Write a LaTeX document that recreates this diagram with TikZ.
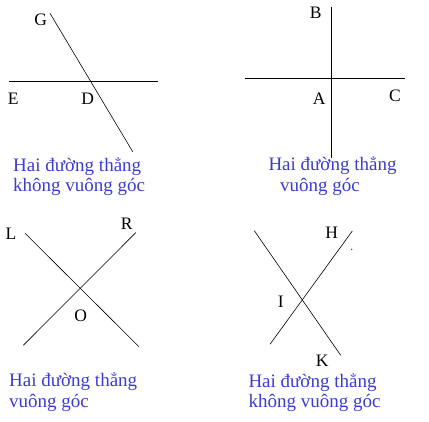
\documentclass[tikz,border=0pt]{standalone}
\usepackage{fontspec}
\setmainfont{Liberation Serif}
\definecolor{captionblue}{RGB}{60,60,210}
\begin{document}
\begin{tikzpicture}[x=1pt,y=-1pt,
  lbl/.style={inner sep=0pt,font=\fontsize{17.5}{19}\selectfont},
  captext/.style={inner sep=0pt,anchor=base west,text=captionblue,font=\fontsize{19}{21}\selectfont},
  thin line/.style={line width=0.6pt},
  thick line/.style={line width=0.9pt}]
\useasboundingbox (0,0) rectangle (429,422);
% Panel 1
\coordinate (G1) at (50,13.3);
\coordinate (G2) at (132.7,151.7);
\coordinate (E1) at (9,81);
\coordinate (E2) at (157.7,81);
\draw[thin line] (G1) -- (G2);
\draw[thick line] (E1) -- (E2);
\node[lbl] (G) at (40.7,20) {G};
\node[lbl] (E) at (13.3,98.3) {E};
\node[lbl] (D) at (87.7,98.3) {D};
\node[captext] (t1a) at (13,172) {Hai đường thẳng};
\node[captext] (t1b) at (13,192) {không vuông góc};
% Panel 2
\coordinate (B1) at (331,6.7);
\coordinate (B2) at (331,158.3);
\coordinate (C1) at (245,78.3);
\coordinate (C2) at (405,78.3);
\draw[thick line] (B1) -- (B2);
\draw[thick line] (C1) -- (C2);
\node[lbl] (B) at (315.7,12.7) {B};
\node[lbl] (A) at (319.3,99) {A};
\node[lbl] (C) at (395,95.7) {C};
\node[captext] (t2a) at (268.3,171) {Hai đường thẳng};
\node[captext] (t2b) at (280,192) {vuông góc};
% Panel 3
\coordinate (L1) at (25,233.3);
\coordinate (L2) at (139,346.7);
\coordinate (R1) at (135.7,232.7);
\coordinate (R2) at (23.3,345.3);
\draw[thin line] (L1) -- (L2);
\draw[thin line] (R1) -- (R2);
\node[lbl] (L) at (11,233.3) {L};
\node[lbl] (R) at (126.7,223.3) {R};
\node[lbl] (O) at (80.7,316) {O};
\node[captext] (t3a) at (9,387) {Hai đường thẳng};
\node[captext] (t3b) at (9,408) {vuông góc};
% Panel 4
\coordinate (K1) at (254.3,230.7);
\coordinate (K2) at (340.7,355.3);
\coordinate (H1) at (352.3,231);
\coordinate (H2) at (270,344.3);
\draw[thin line] (K1) -- (K2);
\draw[thin line] (H1) -- (H2);
\fill (351.7,249.3) circle (0.6);
\node[lbl] (H) at (331.7,232.3) {H};
\node[lbl] (I) at (280.7,301.7) {I};
\node[lbl] (K) at (322.3,361) {K};
\node[captext] (t4a) at (248.3,388) {Hai đường thẳng};
\node[captext] (t4b) at (248.3,408) {không vuông góc};
\end{tikzpicture}
\end{document}
